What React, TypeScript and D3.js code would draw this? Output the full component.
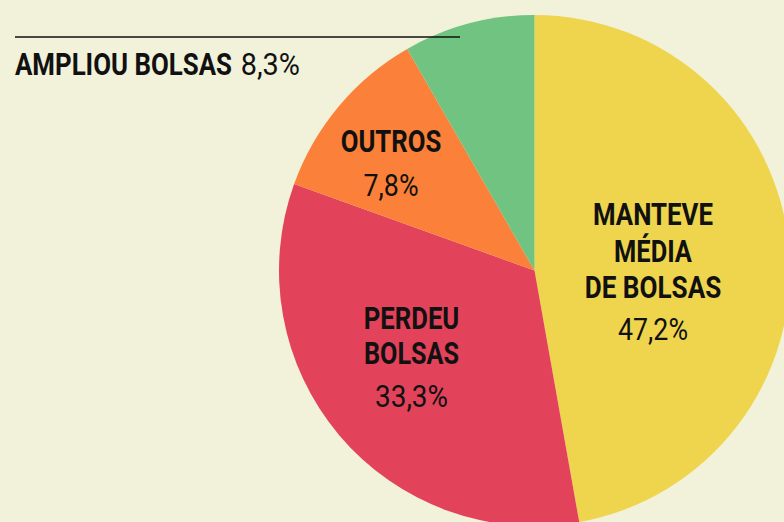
import React, { useLayoutEffect, useRef, useState } from "react";
import * as d3 from "d3";

// Data
const categories = ["MANTEVE MÉDIA DE BOLSAS", "PERDEU BOLSAS", "OUTROS", "AMPLIOU BOLSAS"];
const sliceValues = [47.2, 33.3, 11.2, 8.3]; // share of the drawn circle
const percentLabels = ["47,2%", "33,3%", "7,8%", "8,3%"];
const nameLines = [["MANTEVE", "MÉDIA", "DE BOLSAS"], ["PERDEU", "BOLSAS"], ["OUTROS"], ["AMPLIOU BOLSAS"]];

// Styling / layout
const W = 784, H = 522;
const BG = "#f1f2d9";
const colors = ["#efd54e", "#e2435a", "#fb8039", "#71c381"];
const cx = 534.5, cy = 270.5, R = 255.5;
const FONT = "Roboto, 'Liberation Sans', sans-serif";

// label layout: center x, baselines for name lines, baseline for percent, widths
const layout = [
  { x: 653, ys: [225, 261.7, 298.3], py: 340, nw: [120, 78, 136.7], pw: 70 },
  { x: 411.5, ys: [329, 364], py: 406.7, nw: [95.7, 95], pw: 73 },
  { x: 391, ys: [152], py: 196, nw: [100.7], pw: 55 },
];

function FitText({ x, y, width, anchor = "middle", weight = 700, children }:
  { x: number; y: number; width: number; anchor?: string; weight?: number; children: string }) {
  const ref = useRef<SVGTextElement>(null);
  const [s, setS] = useState(1);
  useLayoutEffect(() => {
    if (ref.current) {
      const w = ref.current.getComputedTextLength();
      if (w > 0) setS(width / w);
    }
  }, [width, children]);
  return (
    <text ref={ref} transform={`translate(${x},${y}) scale(${s},1)`} x={0} y={0}
      textAnchor={anchor as any} fontFamily={FONT} fontSize={32} fontWeight={weight} fill="#111">
      {children}
    </text>
  );
}

export default function App() {
  const pie = d3.pie<number>().sort(null).value((d) => d);
  const arcs = pie(sliceValues);
  const arc = d3.arc<d3.PieArcDatum<number>>().innerRadius(0).outerRadius(R);

  return (
    <svg width={W} height={H} style={{ position: "absolute", left: 0, top: 0, background: BG }}>
      <rect x={0} y={0} width={W} height={H} fill={BG} />
      <g transform={`translate(${cx},${cy})`}>
        {arcs.map((a, i) => (
          <path key={categories[i]} d={arc(a) || ""} fill={colors[i]} />
        ))}
      </g>
      {layout.map((l, i) => (
        <g key={i}>
          {nameLines[i].map((t, j) => (
            <FitText key={j} x={l.x} y={l.ys[j]} width={l.nw[j]}>{t}</FitText>
          ))}
          <FitText x={l.x} y={l.py} width={l.pw} weight={400}>{percentLabels[i]}</FitText>
        </g>
      ))}
      <line x1={15} x2={460} y1={37} y2={37} stroke="#111" strokeWidth={1.5} />
      <FitText x={15} y={75} width={217} anchor="start">{nameLines[3][0]}</FitText>
      <FitText x={240.7} y={75} width={59.3} anchor="start" weight={400}>{percentLabels[3]}</FitText>
    </svg>
  );
}
